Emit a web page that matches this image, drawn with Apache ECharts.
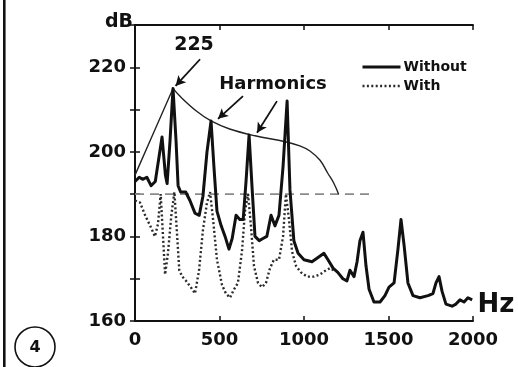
<!DOCTYPE html>
<html>
<head>
<meta charset="utf-8">
<script src="https://cdn.jsdelivr.net/npm/echarts@6/dist/echarts.min.js"></script>
<style>
  html, body { margin: 0; padding: 0; background: #fff; }
  #chart { width: 518px; height: 367px; }
</style>
</head>
<body>
<div id="chart"></div>
<script>
// Spectrum without treatment (solid)
const withoutHz = [0, 25, 45, 70, 95, 120, 160, 180, 190, 207, 225, 243, 255, 270, 300, 325, 355, 380, 402, 426, 450, 467, 485, 510, 533, 556, 575, 598, 620, 640, 657, 675, 692, 710, 735, 757, 780, 805, 828, 852, 876, 900, 917, 940, 965, 1000, 1047, 1083, 1118, 1142, 1172, 1200, 1230, 1254, 1272, 1296, 1314, 1331, 1349, 1367, 1385, 1414, 1450, 1479, 1503, 1533, 1556, 1574, 1592, 1615, 1645, 1686, 1734, 1763, 1781, 1799, 1817, 1840, 1876, 1899, 1923, 1947, 1970, 1995];
const withoutDb = [193, 194, 193.5, 194, 192, 193, 203.5, 194.5, 192.5, 202.5, 215, 202.5, 192, 190.5, 190.5, 188.5, 185.5, 185, 189.5, 200, 207.3, 196.5, 186, 182.5, 180, 177, 179.5, 185, 184, 184, 193, 204, 192, 180, 179, 179.5, 180, 185, 182.5, 185, 196.5, 212, 191, 179, 176, 174.5, 174, 175, 176, 174.5, 172.5, 171.5, 170, 169.5, 172, 170.5, 174, 179, 181, 173, 167.5, 164.5, 164.5, 166, 168, 169, 177, 184, 178, 169, 166, 165.5, 166, 166.5, 169, 170.5, 167, 164, 163.5, 164, 165, 164.5, 165.5, 165];

// Spectrum with treatment (dotted)
const withHz = [0, 30, 60, 90, 118, 136, 152, 163, 178, 195, 215, 233, 248, 262, 280, 302, 330, 355, 379, 402, 426, 444, 462, 485, 515, 538, 562, 586, 609, 633, 651, 669, 686, 704, 728, 751, 775, 799, 822, 852, 876, 893, 911, 929, 953, 982, 1018, 1059, 1095, 1130, 1154, 1175];
const withDb = [188.5, 188, 185, 182.5, 180, 183, 190, 182, 171, 176, 185, 190.5, 181, 172, 170.5, 169.5, 168, 166.5, 172, 181.5, 188, 190.5, 184, 174.5, 168.5, 166.5, 165.5, 167.5, 169, 176.5, 186, 190, 182.5, 173, 169, 168, 169, 172.5, 174.5, 174.5, 180, 190, 184, 176.5, 173, 171.5, 170.5, 170.5, 171, 172, 172.5, 172];

// Harmonic envelope (thin curve)
const envRiseHz = [0, 110, 225];
const envRiseDb = [194.5, 204.5, 215];
const envFallHz = [225, 265, 365, 450, 560, 710, 890, 975, 1035, 1095, 1140, 1175, 1205];
const envFallDb = [215, 213.2, 209.6, 207.3, 205.4, 203.8, 202.4, 201.4, 200.2, 198, 195, 192.7, 190];

// Reference level (dashed)
const refHz = [0, 1400];
const refDb = [190, 190];

// Axis ticks
const xTicks = [0, 500, 1000, 1500, 2000];
const yTicks = [160, 180, 200, 220];

// Annotation arrows: [fromHz, fromDb, toHz, toDb]
const arrows = [
  [385, 221.9, 240, 215.6],
  [639, 213.2, 491, 207.8],
  [840, 212, 722, 204.5]
];

const zip = (xs, ys) => xs.map((x, i) => [x, ys[i]]);
const FONT = 'DejaVu Sans';

const chart = echarts.init(document.getElementById('chart'), null, { renderer: 'canvas' });

const axisCommon = {
  type: 'value',
  axisLine: { show: true, lineStyle: { color: '#111', width: 2 } },
  axisTick: { show: true, inside: true, length: 5, lineStyle: { color: '#111', width: 1.5 } },
  splitLine: { show: false }
};

chart.setOption({
  animation: false,
  backgroundColor: '#fff',
  grid: { left: 135, right: 45, top: 25, bottom: 46, containLabel: false },
  xAxis: [
    Object.assign({}, axisCommon, {
      position: 'bottom', min: xTicks[0], max: xTicks[xTicks.length - 1], interval: 500,
      axisLabel: {
        show: true, margin: 10, color: '#111', fontFamily: FONT, fontWeight: 'bold', fontSize: 18,
        formatter: v => (xTicks.indexOf(v) >= 0 ? String(v) : '')
      }
    }),
    Object.assign({}, axisCommon, {
      position: 'top', min: xTicks[0], max: xTicks[xTicks.length - 1], interval: 500,
      axisLabel: { show: false }
    })
  ],
  yAxis: [
    Object.assign({}, axisCommon, {
      position: 'left', min: 160, max: 230, interval: 10,
      axisLabel: {
        show: true, margin: 9, color: '#111', fontFamily: FONT, fontWeight: 'bold', fontSize: 18,
        formatter: v => (yTicks.indexOf(v) >= 0 ? String(v) : '')
      }
    }),
    Object.assign({}, axisCommon, {
      position: 'right', min: 160, max: 230, interval: 10,
      axisLabel: { show: false }
    })
  ],
  legend: {
    data: ['Without', 'With'],
    orient: 'vertical',
    left: 356, top: 55,
    itemWidth: 38, itemHeight: 12, itemGap: 5,
    itemStyle: { opacity: 0 },
    lineStyle: { width: 'inherit' },
    textStyle: { color: '#111', fontFamily: FONT, fontWeight: 'bold', fontSize: 14, padding: [0, 0, 0, -2] },
    selectedMode: false
  },
  series: [
    {
      name: 'ref', type: 'line', data: zip(refHz, refDb), symbol: 'none', silent: true,
      lineStyle: { color: '#8a8a8a', width: 1.8, type: [9, 6] }, z: 1
    },
    {
      name: 'envRise', type: 'line', data: zip(envRiseHz, envRiseDb), symbol: 'none', silent: true,
      lineStyle: { color: '#222', width: 1.4 }, z: 2
    },
    {
      name: 'envFall', type: 'line', data: zip(envFallHz, envFallDb), symbol: 'none', silent: true,
      smooth: 0.4,
      lineStyle: { color: '#222', width: 1.4 }, z: 2,
      markLine: {
        silent: true, animation: false,
        symbol: ['none', 'arrow'], symbolSize: [8, 10],
        label: { show: false },
        lineStyle: { color: '#111', width: 1.8, type: 'solid' },
        emphasis: { disabled: true },
        data: arrows.map(a => [{ coord: [a[0], a[1]] }, { coord: [a[2], a[3]] }])
      }
    },
    {
      name: 'With', type: 'line', data: zip(withHz, withDb), symbol: 'none', silent: true,
      color: '#2a2a2a',
      lineStyle: { color: '#2a2a2a', width: 2.4, type: [2, 2.4] }, z: 3
    },
    {
      name: 'Without', type: 'line', data: zip(withoutHz, withoutDb), symbol: 'none', silent: true,
      color: '#111',
      lineStyle: { color: '#111', width: 3, join: 'round' }, z: 4
    }
  ],
  graphic: [
    { type: 'rect', shape: { x: 3, y: 0, width: 2.6, height: 367 }, style: { fill: '#111' }, silent: true },
    { type: 'circle', shape: { cx: 35, cy: 347, r: 20 }, style: { fill: 'none', stroke: '#111', lineWidth: 1.6 }, silent: true },
    { type: 'text', x: 35, y: 348, style: { text: '4', font: 'bold 16px "DejaVu Sans"', fill: '#111', align: 'center', verticalAlign: 'middle', textAlign: 'center', textVerticalAlign: 'middle' }, silent: true },
    { type: 'text', x: 133, y: 22, style: { text: 'dB', font: 'bold 19px "DejaVu Sans"', fill: '#111', align: 'right', verticalAlign: 'middle', textAlign: 'right', textVerticalAlign: 'middle' }, silent: true },
    { type: 'text', x: 496, y: 305, style: { text: 'Hz', font: 'bold 26px "DejaVu Sans"', fill: '#111', align: 'center', verticalAlign: 'middle', textAlign: 'center', textVerticalAlign: 'middle' }, silent: true },
    { type: 'text', x: 194, y: 45, style: { text: '225', font: 'bold 19px "DejaVu Sans"', fill: '#111', align: 'center', verticalAlign: 'middle', textAlign: 'center', textVerticalAlign: 'middle' }, silent: true },
    { type: 'text', x: 273, y: 84, style: { text: 'Harmonics', font: 'bold 18px "DejaVu Sans"', fill: '#111', align: 'center', verticalAlign: 'middle', textAlign: 'center', textVerticalAlign: 'middle' }, silent: true }
  ]
});
</script>
</body>
</html>
